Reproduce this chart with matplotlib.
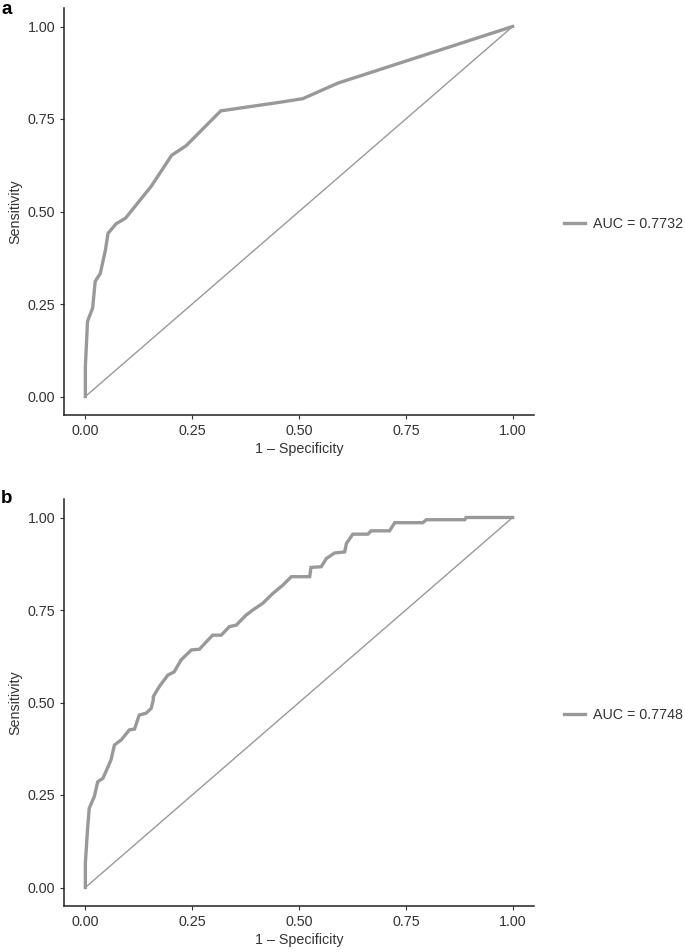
import matplotlib
matplotlib.use("Agg")
import matplotlib.pyplot as plt
from matplotlib.lines import Line2D

plt.rcParams['font.family'] = ['Liberation Sans', 'DejaVu Sans']

# Panel a ROC curve
fpr_a = [0.0, 0.0, 0.005, 0.017, 0.023, 0.035, 0.047, 0.053, 0.072, 0.094,
         0.154, 0.202, 0.236, 0.317, 0.454, 0.509, 0.591, 1.0]
tpr_a = [0.0, 0.08, 0.203, 0.239, 0.311, 0.333, 0.396, 0.441, 0.467, 0.482,
         0.568, 0.652, 0.678, 0.772, 0.795, 0.805, 0.847, 1.0]
auc_a = "AUC = 0.7732"

# Panel b ROC curve
fpr_b = [0.0, 0.0, 0.005, 0.009, 0.021, 0.029, 0.041, 0.048, 0.060, 0.068,
         0.084, 0.103, 0.115, 0.126, 0.142, 0.154, 0.159, 0.159, 0.173, 0.193,
         0.208, 0.224, 0.248, 0.267, 0.283, 0.298, 0.318, 0.337, 0.353, 0.376,
         0.392, 0.415, 0.439, 0.462, 0.482, 0.525, 0.528, 0.552, 0.564, 0.583,
         0.607, 0.611, 0.626, 0.661, 0.669, 0.712, 0.724, 0.790, 0.798, 0.888,
         0.891, 1.0]
tpr_b = [0.0, 0.066, 0.156, 0.214, 0.246, 0.286, 0.295, 0.313, 0.345, 0.385,
         0.399, 0.426, 0.428, 0.466, 0.471, 0.484, 0.507, 0.516, 0.543, 0.574,
         0.583, 0.615, 0.642, 0.644, 0.664, 0.682, 0.682, 0.705, 0.709, 0.736,
         0.750, 0.768, 0.795, 0.817, 0.840, 0.840, 0.865, 0.867, 0.889, 0.904,
         0.907, 0.930, 0.955, 0.955, 0.964, 0.964, 0.986, 0.986, 0.994, 0.994,
         1.0, 1.0]
auc_b = "AUC = 0.7748"

ticks = [0.0, 0.25, 0.5, 0.75, 1.0]
tick_labels = ["0.00", "0.25", "0.50", "0.75", "1.00"]

W, H = 685, 952
fig = plt.figure(figsize=(W / 100, H / 100), dpi=100)

curve_col = "#999999"
FS = 10.3

def make_panel(rect, fpr, tpr, label, letter, letter_y, legend_y):
    ax = fig.add_axes(rect)
    ax.plot([0, 1], [0, 1], color=curve_col, lw=1.0)
    ax.plot(fpr, tpr, color=curve_col, lw=2.4, solid_joinstyle='miter')
    ax.set_xlim(-0.05, 1.05)
    ax.set_ylim(-0.05, 1.05)
    ax.set_xticks(ticks)
    ax.set_xticklabels(tick_labels)
    ax.set_yticks(ticks)
    ax.set_yticklabels(tick_labels)
    for s in ['top', 'right']:
        ax.spines[s].set_visible(False)
    for s in ['left', 'bottom']:
        ax.spines[s].set_linewidth(1.1)
        ax.spines[s].set_color('#222222')
    ax.tick_params(axis='both', direction='out', length=3.2, width=0.8,
                   color='#333333', labelsize=FS, labelcolor='#333333', pad=3)
    ax.set_xlabel("1 \u2013 Specificity", fontsize=FS, color='#333333', labelpad=3)
    ax.set_ylabel("Sensitivity", fontsize=FS, color='#333333', labelpad=4)
    fig.text(1 / W, 1 - letter_y / H, letter, fontsize=13.5, fontweight='bold',
             ha='left', va='top')
    h = Line2D([], [], color=curve_col, lw=2.4)
    ax.legend([h], [label], loc='center left',
              bbox_to_anchor=(564 / W, 1 - legend_y / H),
              bbox_transform=fig.transFigure, frameon=False, fontsize=FS,
              handlelength=1.5, handletextpad=0.55, borderpad=0,
              borderaxespad=0)
    for t in ax.get_legend().get_texts():
        t.set_color('#333333')
    return ax

# axes rectangles in figure coords from pixel geometry
left = 64 / W
width = (534 - 64) / W
make_panel([left, 1 - 415 / H, width, (415 - 8) / H], fpr_a, tpr_a, auc_a,
           "a", 1, 224)
make_panel([left, 1 - 906 / H, width, (906 - 499) / H], fpr_b, tpr_b, auc_b,
           "b", 490, 715)

fig.savefig("out.png", dpi=100)
